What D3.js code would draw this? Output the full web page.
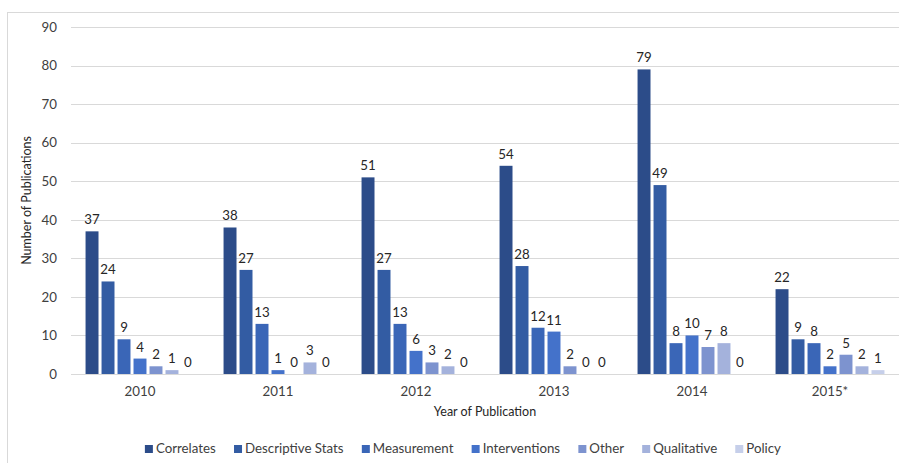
<!DOCTYPE html>
<html>
<head>
<meta charset="utf-8">
<script src="https://cdn.jsdelivr.net/npm/d3@7"></script>
<style>
  html, body { margin: 0; padding: 0; background: #ffffff; }
  svg { display: block; font-family: Lato, "Open Sans", sans-serif; }
</style>
</head>
<body>
<div id="chart"></div>
<script>
// Publications per year, split by study type
const years = ["2010", "2011", "2012", "2013", "2014", "2015*"];
const seriesNames = ["Correlates", "Descriptive Stats", "Measurement", "Interventions", "Other", "Qualitative", "Policy"];
const correlates   = [37, 38, 51, 54, 79, 22];
const descriptive  = [24, 27, 27, 28, 49, 9];
const measurement  = [9, 13, 13, 12, 8, 8];
const interventions = [4, 1, 6, 11, 10, 2];
const other        = [2, 0, 3, 2, 7, 5];
const qualitative  = [1, 3, 2, 0, 8, 2];
const policy       = [0, 0, 0, 0, 0, 1];
const yTicks = [0, 10, 20, 30, 40, 50, 60, 70, 80, 90];
const colors = ["#2c4c89", "#335ca3", "#3a66b7", "#4472ca", "#7d93cf", "#a4b2dc", "#c6cfea"];

const seriesValues = [correlates, descriptive, measurement, interventions, other, qualitative, policy];

const W = 899, H = 463;
const plot = { left: 71, right: 899, top: 27, bottom: 374 };

const svg = d3.select("#chart").append("svg")
  .attr("width", W).attr("height", H);

// chart frame
svg.append("rect")
  .attr("x", 7.5).attr("y", 12.5)
  .attr("width", W).attr("height", H)
  .attr("fill", "none").attr("stroke", "#d9d9d9");

const y = d3.scaleLinear().domain([0, 90]).range([plot.bottom, plot.top]);
const x0 = d3.scaleBand().domain(years).range([plot.left, plot.right]).padding(0);
const x1 = d3.scaleBand().domain(seriesNames).range([0, x0.bandwidth()])
  .paddingInner(0.19).paddingOuter(0.91);

// gridlines
svg.append("g").selectAll("line").data(yTicks).join("line")
  .attr("x1", plot.left).attr("x2", plot.right)
  .attr("y1", d => Math.round(y(d)) + 0.5).attr("y2", d => Math.round(y(d)) + 0.5)
  .attr("stroke", "#d9d9d9").attr("stroke-width", 1);

// y axis tick labels
const yAxis = d3.axisLeft(y).tickValues(yTicks).tickSize(0).tickPadding(14);
const gy = svg.append("g").attr("transform", `translate(${plot.left},0)`).call(yAxis);
gy.select(".domain").remove();
gy.selectAll("text").attr("font-family", "Lato, sans-serif").attr("font-size", 13.3).attr("fill", "#404040");

// x axis category labels
const xAxis = d3.axisBottom(x0).tickSize(0).tickPadding(13);
const gx = svg.append("g").attr("transform", `translate(0,${plot.bottom})`).call(xAxis);
gx.select(".domain").remove();
gx.selectAll("text").attr("font-family", "Lato, sans-serif").attr("font-size", 13.3).attr("fill", "#404040");

// bars and value labels
const groups = svg.append("g").selectAll("g").data(years).join("g")
  .attr("transform", d => `translate(${x0(d)},0)`);

const cells = groups.selectAll("g.cell")
  .data((yr, i) => seriesNames.map((s, k) => ({ s, k, v: seriesValues[k][i] })))
  .join("g").attr("class", "cell");

cells.append("rect")
  .attr("x", d => x1(d.s))
  .attr("y", d => y(d.v))
  .attr("width", x1.bandwidth())
  .attr("height", d => y(0) - y(d.v))
  .attr("fill", d => colors[d.k]);

cells.append("text")
  .attr("x", d => x1(d.s) + x1.bandwidth() / 2)
  .attr("y", d => y(d.v) - 7)
  .attr("text-anchor", "middle")
  .attr("font-size", 13.3)
  .attr("fill", "#262626")
  .text(d => d.v);

// axis titles
svg.append("text")
  .attr("transform", `translate(31,${(plot.top + plot.bottom) / 2}) rotate(-90)`)
  .attr("text-anchor", "middle")
  .attr("font-size", 12.5)
  .attr("fill", "#262626")
  .text("Number of Publications");

svg.append("text")
  .attr("x", (plot.left + plot.right) / 2)
  .attr("y", 416)
  .attr("text-anchor", "middle")
  .attr("font-size", 12.5)
  .attr("fill", "#262626")
  .text("Year of Publication");

// legend, laid out left to right and centred
const legend = svg.append("g");
const items = legend.selectAll("g").data(seriesNames).join("g");
items.append("rect")
  .attr("width", 8).attr("height", 8).attr("y", -8)
  .attr("fill", (d, i) => colors[i]);
items.append("text")
  .attr("x", 11).attr("y", 0)
  .attr("font-size", 13.3).attr("fill", "#404040")
  .text(d => d);
let cx = 0;
items.each(function () {
  d3.select(this).attr("transform", `translate(${cx},0)`);
  cx += this.getBBox().width + 18;
});
const totalW = cx - 18;
legend.attr("transform", `translate(${463 - totalW / 2},453)`);
</script>
</body>
</html>
